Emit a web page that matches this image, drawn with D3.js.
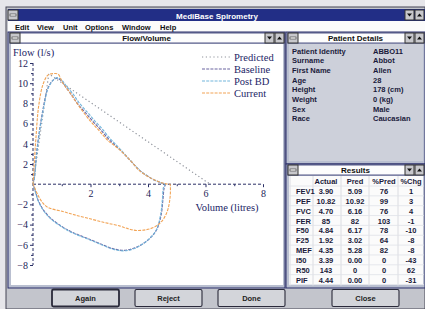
<!DOCTYPE html>
<html><head><meta charset="utf-8">
<script src="https://cdn.jsdelivr.net/npm/d3@7/dist/d3.min.js"></script>
<style>body{margin:0;background:#fff;overflow:hidden}svg{display:block}</style>
</head><body><svg id="c" width="425" height="309"></svg>
<script>
// ---------- data ----------
const volumeTicks = [2, 4, 6, 8];
const volumeMinor = [1, 3, 5, 7];
const flowTicks = [-8, -6, -4, -2, 2, 4, 6, 8, 10, 12];
const flowMinor = [-7, -5, -3, -1, 1, 3, 5, 7, 9, 11];
const seriesNames = ["Predicted", "Baseline", "Post BD", "Current"];

// [volume (litres), flow (l/s)]
const predicted = [[0, 0], [0.55, 10.92], [6.16, 0]];
const baseline = [[0,0],[0.05,0.7],[0.12,3],[0.24,5.6],[0.36,7.6],[0.48,9.2],[0.6,9.95],[0.72,10.35],[0.85,10.5],[1.0,10.2],[1.11,9.75],[1.35,8.8],[1.57,7.9],[1.85,7.0],[2.09,6.2],[2.35,5.4],[2.6,4.55],[2.8,4.0],[3.03,3.4],[3.4,2.3],[3.72,1.35],[4.1,0.6],[4.4,0.2],[4.55,0.03],[4.6,0],
  [4.56,-0.4],[4.52,-1.5],[4.46,-3.0],[4.32,-4.4],[4.12,-5.2],[3.82,-5.9],[3.5,-6.35],[3.15,-6.55],[2.8,-6.4],[2.43,-6.0],[1.88,-5.35],[1.4,-4.8],[1.04,-4.25],[0.59,-3.3],[0.35,-2.5],[0.18,-1.6],[0.07,-0.6],[0,0]];
const postBD = [[0,0],[0.05,0.6],[0.13,3],[0.25,5.6],[0.38,7.7],[0.5,9.3],[0.62,10.0],[0.74,10.4],[0.86,10.55],[1.02,10.25],[1.14,9.8],[1.4,8.9],[1.62,8.0],[1.9,7.1],[2.14,6.3],[2.4,5.5],[2.64,4.65],[2.84,4.05],[3.05,3.42],[3.4,2.3],[3.72,1.35],[4.1,0.6],[4.4,0.2],[4.55,0.03],[4.6,0],
  [4.54,-0.3],[4.5,-1.5],[4.44,-3.0],[4.3,-4.45],[4.1,-5.25],[3.8,-5.95],[3.5,-6.4],[3.15,-6.6],[2.8,-6.45],[2.43,-6.05],[1.88,-5.4],[1.4,-4.85],[1.04,-4.3],[0.59,-3.35],[0.35,-2.55],[0.18,-1.65],[0.07,-0.65],[0,0]];
const current = [[0,0],[0.03,1.4],[0.1,4.5],[0.2,7.8],[0.35,9.9],[0.52,10.8],[0.7,10.95],[0.87,10.9],[1.04,10.0],[1.3,9.0],[1.53,8.0],[1.98,6.3],[2.3,5.3],[2.6,4.35],[3.03,3.37],[3.4,2.3],[3.72,1.3],[4.1,0.6],[4.42,0.2],[4.66,0.02],[4.76,0],
  [4.78,-0.5],[4.76,-1.5],[4.68,-2.6],[4.5,-3.6],[4.25,-4.2],[3.95,-4.5],[3.6,-4.58],[3.3,-4.4],[3.03,-4.15],[2.5,-3.8],[1.88,-3.35],[1.4,-3.0],[1.04,-2.7],[0.52,-2.3],[0.3,-1.7],[0.15,-0.95],[0.05,-0.3],[0,0]];

const menuItems = ["Edit", "View", "Unit", "Options", "Window", "Help"];
const patientLabels = ["Patient Identity", "Surname", "First Name", "Age", "Height", "Weight", "Sex", "Race"];
const patientValues = ["ABBO11", "Abbot", "Allen", "28", "178  (cm)", "0  (kg)", "Male", "Caucasian"];
const resultHeaders = ["Actual", "Pred", "%Pred", "%Chg"];
const resultLabels = ["FEV1", "PEF", "FVC", "FER", "F50", "F25", "MEF", "I50", "R50", "PIF"];
const actualVals = ["3.90", "10.82", "4.70", "85", "4.84", "1.92", "4.35", "3.39", "143", "4.44"];
const predVals = ["5.09", "10.92", "6.16", "82", "6.17", "3.02", "5.28", "0.00", "0", "0.00"];
const pctPredVals = ["76", "99", "76", "103", "78", "64", "82", "0", "0", "0"];
const pctChgVals = ["1", "3", "4", "-1", "-10", "-8", "-8", "-43", "62", "-31"];
const buttonLabels = ["Again", "Reject", "Done", "Close"];

// ---------- drawing ----------
const svg = d3.select("#c");
const UI = "'Liberation Sans', Arial, sans-serif";
const SERIF = "'Liberation Serif', 'Times New Roman', serif";

svg.append("rect").attr("width", 425).attr("height", 309).attr("fill", "#e6e6ea");
svg.append("rect").attr("x", 6).attr("y", 7).attr("width", 419).attr("height", 302).attr("fill", "#c3c5cc").attr("stroke", "#445").attr("stroke-width", 1);
svg.append("rect").attr("x", 8).attr("y", 9).attr("width", 417).attr("height", 12).attr("fill", "#222e86");
svg.append("text").attr("x", 217).attr("y", 18.5).attr("text-anchor", "middle").attr("fill", "#fff")
  .attr("font-family", UI).attr("font-weight", "bold").attr("font-size", 8).text("MediBase Spirometry");
function sysBox(x, y) {
  svg.append("rect").attr("x", x).attr("y", y).attr("width", 10).attr("height", 10).attr("fill", "#c8c8cc").attr("stroke", "#333");
  svg.append("rect").attr("x", x + 2).attr("y", y + 4).attr("width", 6).attr("height", 2).attr("fill", "#fff").attr("stroke", "#333").attr("stroke-width", 0.6);
}
function arrowBtn(x, y, up) {
  svg.append("rect").attr("x", x).attr("y", y).attr("width", 9).attr("height", 10).attr("fill", "#c8c8cc").attr("stroke", "#333");
  const cx = x + 4.5, cy = y + 5;
  svg.append("path").attr("d", up ? `M${cx-2.5},${cy+1.5}L${cx+2.5},${cy+1.5}L${cx},${cy-1.5}Z` : `M${cx-2.5},${cy-1.5}L${cx+2.5},${cy-1.5}L${cx},${cy+1.5}Z`).attr("fill", "#111");
}
sysBox(8, 10);
arrowBtn(405, 10, false); arrowBtn(415, 10, true);

// menu bar
svg.append("rect").attr("x", 8).attr("y", 21).attr("width", 417).attr("height", 11).attr("fill", "#fbfbfb");
const menuX = [15, 37, 63, 85, 122, 160];
menuItems.forEach((m, i) => {
  svg.append("text").attr("x", menuX[i]).attr("y", 29.5).attr("fill", "#111").attr("font-family", UI)
    .attr("font-weight", "bold").attr("font-size", 7.5).text(m);
});

function childWin(x, y, w, h, title, contentFill) {
  svg.append("rect").attr("x", x).attr("y", y).attr("width", w).attr("height", h).attr("fill", "#b9bfd0").attr("stroke", "#2a2f6a").attr("stroke-width", 1);
  svg.append("rect").attr("x", x + 2).attr("y", y + 1).attr("width", w - 3).attr("height", 10).attr("fill", "#fdfdfd").attr("stroke", "#2a2f6a").attr("stroke-width", 0.8);
  sysBox(x + 2, y + 1);
  arrowBtn(x + w - 20, y + 1, false); arrowBtn(x + w - 10, y + 1, true);
  svg.append("text").attr("x", x + (w - 10) / 2 + 5).attr("y", y + 9).attr("text-anchor", "middle").attr("fill", "#111")
    .attr("font-family", UI).attr("font-weight", "bold").attr("font-size", 8).text(title);
  svg.append("rect").attr("x", x + 3).attr("y", y + 12).attr("width", w - 5).attr("height", h - 15).attr("fill", contentFill);
}
childWin(8, 32, 277, 256, "Flow/Volume", "#ffffff");
childWin(286, 32, 139, 132, "Patient Details", "#cdd0da");
childWin(286, 164, 139, 124, "Results", "#fbfbfb");

// ---------- chart ----------
const x = d3.scaleLinear().domain([0, 8]).range([33, 263]);
const y = d3.scaleLinear().domain([-8, 12]).range([265, 63]);
const g = svg.append("g");
const AX = "#2a2f66";

const yAxis = g.append("g").attr("transform", `translate(${x(0)},0)`)
  .call(d3.axisLeft(y).tickValues(flowTicks).tickSize(3).tickPadding(2).tickFormat(d3.format("d")));
g.append("g").attr("transform", `translate(${x(0)},0)`).call(d3.axisLeft(y).tickValues(flowMinor).tickSize(2).tickFormat(""))
  .call(a => a.select(".domain").remove());
const xAxis = g.append("g").attr("transform", `translate(0,${y(0)})`)
  .call(d3.axisBottom(x).tickValues(volumeTicks).tickSize(3).tickPadding(3).tickFormat(d3.format("d")));
g.append("g").attr("transform", `translate(0,${y(0)})`).call(d3.axisBottom(x).tickValues(volumeMinor).tickSize(2).tickFormat(""))
  .call(a => a.select(".domain").remove());
g.selectAll(".domain").attr("stroke", AX).attr("stroke-dasharray", "3,2");
g.selectAll(".tick line").attr("stroke", AX);
g.selectAll(".tick text").attr("fill", "#1c2457").attr("font-family", SERIF).attr("font-size", 10);
yAxis.select(".domain").attr("d", `M-0,${y(12)}V${y(-8)}`);
xAxis.select(".domain").attr("d", `M${x(0)},0H${x(8)}`);

const line = d3.line().x(d => x(d[0])).y(d => y(d[1])).curve(d3.curveCatmullRom.alpha(0.5));
const lin = d3.line().x(d => x(d[0])).y(d => y(d[1]));
const styles = [
  { data: predicted, color: "#8f939c", dash: "1.2,2.6", w: 1.2, gen: lin },
  { data: baseline, color: "#6a64a0", dash: "3,1.2", w: 1.1, gen: line },
  { data: postBD, color: "#72b6dc", dash: "3,1.2", w: 1.1, gen: line },
  { data: current, color: "#f2a456", dash: "3,1.2", w: 1.1, gen: line }
];
styles.forEach(s => {
  g.append("path").datum(s.data).attr("d", s.gen).attr("fill", "none").attr("stroke", s.color)
    .attr("stroke-width", s.w).attr("stroke-dasharray", s.dash);
});

seriesNames.forEach((n, i) => {
  const ly = 57 + i * 12;
  g.append("line").attr("x1", 202).attr("x2", 230).attr("y1", ly).attr("y2", ly)
    .attr("stroke", styles[i].color).attr("stroke-width", 1.1).attr("stroke-dasharray", styles[i].dash);
  g.append("text").attr("x", 234).attr("y", ly + 3.5).attr("fill", "#1c2466").attr("font-family", SERIF)
    .attr("font-size", 10.5).text(n);
});
g.append("text").attr("x", 13).attr("y", 56).attr("fill", "#1c2466").attr("font-family", SERIF).attr("font-size", 10.5).text("Flow (l/s)");
g.append("text").attr("x", 227).attr("y", 211).attr("text-anchor", "middle").attr("fill", "#1c2466").attr("font-family", SERIF).attr("font-size", 10.5).text("Volume (litres)");

// ---------- patient details ----------
patientLabels.forEach((l, i) => {
  const ty = 53.5 + i * 9.7;
  svg.append("text").attr("x", 292).attr("y", ty).attr("fill", "#1a1a3a").attr("font-family", UI).attr("font-weight", "bold").attr("font-size", 7.5).text(l);
  svg.append("text").attr("x", 373).attr("y", ty).attr("fill", "#1a1a3a").attr("font-family", UI).attr("font-weight", "bold").attr("font-size", 7.5).text(patientValues[i]);
});

// ---------- results ----------
const colX = [326, 355, 384, 411];
const cols = [actualVals, predVals, pctPredVals, pctChgVals];
const rowY = i => 191 + i * 9.85;
[290, 313, 341, 369, 398].forEach(gx => {
  svg.append("line").attr("x1", gx).attr("x2", gx).attr("y1", 176).attr("y2", 286).attr("stroke", "#d4d6dc").attr("stroke-width", 0.8);
});
for (let i = 0; i <= resultLabels.length; i++) {
  svg.append("line").attr("x1", 289).attr("x2", 424).attr("y1", rowY(i) - 5).attr("y2", rowY(i) - 5).attr("stroke", "#e0e2e8").attr("stroke-width", 0.8);
}
resultHeaders.forEach((h, j) => {
  svg.append("text").attr("x", colX[j]).attr("y", 184).attr("text-anchor", "middle").attr("fill", "#1a1a3a")
    .attr("font-family", UI).attr("font-weight", "bold").attr("font-size", 7.5).text(h);
});
resultLabels.forEach((l, i) => {
  svg.append("text").attr("x", 296).attr("y", rowY(i) + 3).attr("fill", "#1a1a3a").attr("font-family", UI).attr("font-weight", "bold").attr("font-size", 7.5).text(l);
  cols.forEach((c, j) => {
    svg.append("text").attr("x", colX[j]).attr("y", rowY(i) + 3).attr("text-anchor", "middle").attr("fill", "#1a1a3a")
      .attr("font-family", UI).attr("font-weight", "bold").attr("font-size", 7.5).text(c[i]);
  });
});

// ---------- buttons ----------
const btnX = [52, 135, 218, 332];
buttonLabels.forEach((b, i) => {
  svg.append("rect").attr("x", btnX[i]).attr("y", 289.5).attr("width", 67).attr("height", 17).attr("rx", 1.5)
    .attr("fill", "#d3d5da").attr("stroke", "#2a2a3a").attr("stroke-width", i === 0 ? 1.8 : 1.1);
  svg.append("text").attr("x", btnX[i] + 33.5).attr("y", 301).attr("text-anchor", "middle").attr("fill", "#222")
    .attr("font-family", UI).attr("font-weight", "bold").attr("font-size", 7.5).text(b);
});
</script></body></html>
